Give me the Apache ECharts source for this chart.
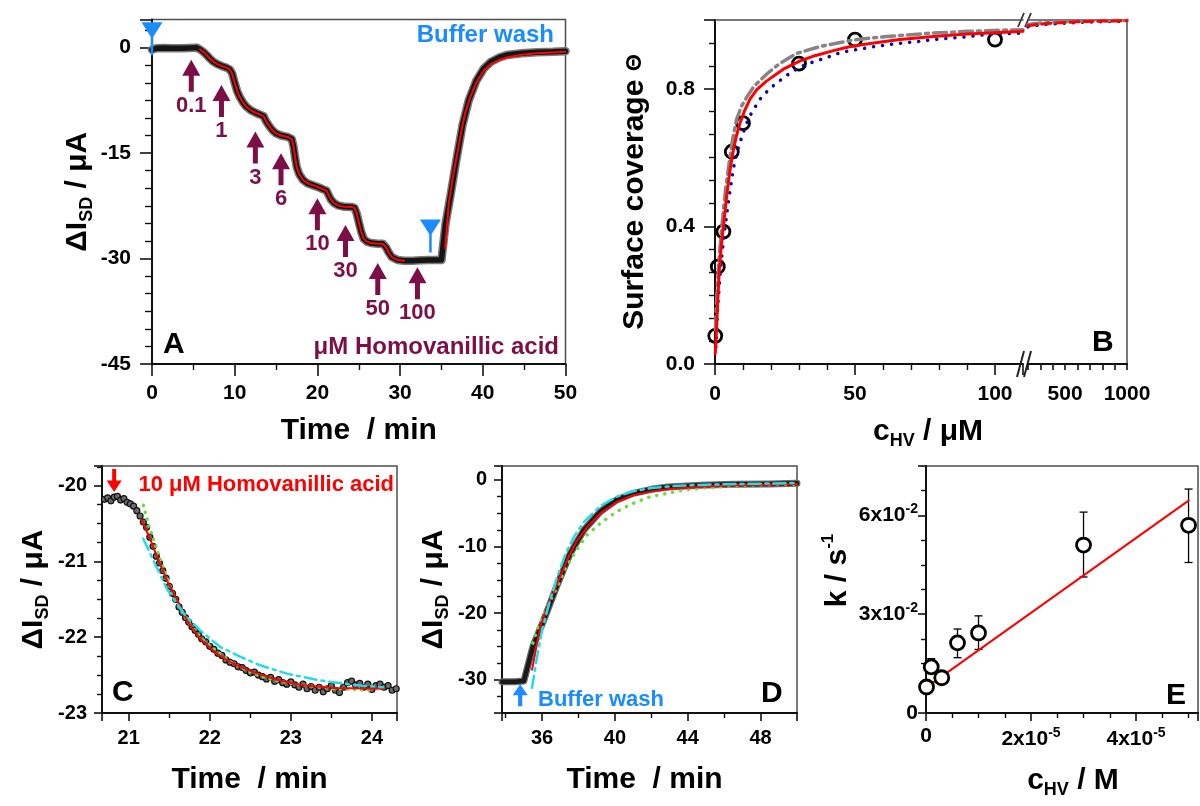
<!DOCTYPE html>
<html>
<head>
<meta charset="utf-8">
<title>Homovanillic acid binding</title>
<script src="https://cdn.jsdelivr.net/npm/echarts@6.0.0/dist/echarts.min.js"></script>
<style>
  html, body { margin: 0; padding: 0; background: #fff; }
  #main { width: 1200px; height: 806px; }
</style>
</head>
<body>
<div id="main"></div>
<script>
// ---- panel A: full titration, time (min) vs current (uA)
const traceA = [
  [0, -0.3], [0.5, -0.1], [1.5, -0.05], [2.5, -0.1], [3.5, -0.1], [4.5, -0.05], [5.4, 0], [5.8, -0.25],
  [6.2, -0.6], [6.6, -1.05], [7.0, -1.55], [7.4, -2.0], [7.9, -2.35], [8.4, -2.6], [9.0, -2.85], [9.4, -3.1],
  [9.7, -3.7], [10.0, -5.0], [10.3, -6.2], [10.6, -7.0], [11.0, -7.8], [11.4, -8.4], [12.0, -8.95], [12.6, -9.3],
  [13.2, -9.6], [13.5, -9.75], [13.8, -10.5], [14.2, -11.2], [14.6, -11.8], [15.0, -12.2], [15.6, -12.5], [16.4, -12.7],
  [16.9, -13.0], [17.1, -14.0], [17.3, -15.6], [17.5, -17.0], [17.8, -18.0], [18.25, -18.8], [18.8, -19.3], [19.5, -19.6],
  [20.2, -19.9], [20.7, -20.15], [21.1, -20.35], [21.35, -20.95], [21.6, -21.55], [22.0, -22.1], [22.5, -22.45], [23.3, -22.65],
  [24.2, -22.68], [24.5, -22.8], [24.75, -23.6], [25.0, -24.8], [25.3, -26.2], [25.6, -27.2], [26.0, -27.6], [26.5, -27.8],
  [27.3, -27.9], [27.9, -27.9], [28.3, -28.4], [28.6, -29.1], [29.0, -29.8], [29.7, -30.2], [30.5, -30.3], [31.5, -30.3],
  [32.5, -30.25], [33.3, -30.2], [34.2, -30.2], [35.0, -30.2], [35.5, -25], [36.1, -21], [36.8, -16], [37.55, -11],
  [38.3, -7.5], [39.2, -4.75], [40.1, -3.0], [41.0, -2.0], [42.0, -1.4], [42.9, -1.05], [44.7, -0.8], [46.5, -0.65],
  [48.5, -0.6], [50, -0.5]
];
const arrowTimesA = [4.75, 8.4, 12.5, 15.6, 20.0, 23.4, 27.3, 32.1];
const arrowLevelsA = [-4.0, -7.6, -14.2, -17.3, -23.7, -27.5, -32.9, -33.5];
const arrowConcA = ['0.1', '1', '3', '6', '10', '30', '50', '100'];
const washTimesA = [0, 33.67];
const washLevelsA = [1.25, -26.8];

// ---- panel B: surface coverage vs concentration (uM)
const concB = [0.1, 1, 3, 6, 10, 30, 50, 100];
const thetaB = [0.082, 0.283, 0.385, 0.617, 0.70, 0.873, 0.943, 0.943];
const redB = [[0.1, 0.03], [0.4, 0.075], [0.8, 0.15], [1.5, 0.27], [2.2, 0.34], [3, 0.40], [4.2, 0.49], [5.3, 0.56],
  [6.5, 0.62], [7.7, 0.665], [8.9, 0.70], [10.5, 0.735], [12.5, 0.77], [15, 0.798], [18.5, 0.823], [24.4, 0.857],
  [30.4, 0.881], [36, 0.897], [42.3, 0.911], [48, 0.922], [54.2, 0.93], [60, 0.937], [66, 0.943], [78, 0.952],
  [90, 0.959], [100, 0.963], [110, 0.967]];
const grayB = [[0.15, 0.10], [0.5, 0.17], [0.8, 0.22], [1.3, 0.29], [1.8, 0.34], [2.8, 0.43], [3.8, 0.51], [4.75, 0.566],
  [6.0, 0.64], [7.7, 0.711], [9.5, 0.75], [11.3, 0.775], [14, 0.808], [18.5, 0.843], [23, 0.873], [29.2, 0.903],
  [37.5, 0.923], [49.4, 0.942], [61.3, 0.952], [75.6, 0.961], [89.9, 0.967], [105.4, 0.971], [110, 0.972]];
const blueB = [[0.3, 0.05], [1, 0.17], [2, 0.28], [3, 0.36], [4.75, 0.47], [6.5, 0.566], [8, 0.62], [9.5, 0.658],
  [11, 0.695], [13.1, 0.731], [16.1, 0.77], [19.6, 0.801], [23.8, 0.828], [27.4, 0.849], [31, 0.866], [35.1, 0.878],
  [39.9, 0.891], [44, 0.903], [48.2, 0.911], [53, 0.917], [57.1, 0.923], [61.9, 0.928], [66.7, 0.933], [72, 0.937],
  [76.7, 0.942], [80.9, 0.945], [85, 0.948], [89.9, 0.951], [95.8, 0.957], [100.6, 0.959], [110, 0.962]];
const redB2 = [[200, 0.983], [300, 0.988], [400, 0.991], [500, 0.993], [600, 0.995], [700, 0.996], [800, 0.997], [1000, 0.998]];
const grayB2 = [[200, 0.987], [300, 0.991], [400, 0.994], [500, 0.995], [600, 0.996], [800, 0.998], [1000, 0.999]];
const blueB2 = [[200, 0.980], [300, 0.986], [400, 0.989], [500, 0.991], [600, 0.993], [800, 0.995], [1000, 0.996]];

// ---- panel C: 10 uM step, zoomed
const dotsC = [
  [20.70, -20.18], [20.74, -20.16], [20.78, -20.20], [20.82, -20.15], [20.86, -20.14], [20.90, -20.19], [20.94, -20.17],
  [20.98, -20.22], [21.02, -20.24], [21.06, -20.27], [21.10, -20.33], [21.14, -20.40], [21.18, -20.48], [21.22, -20.55],
  [21.26, -20.68], [21.30, -20.80], [21.34, -20.93], [21.38, -21.02], [21.42, -21.12], [21.46, -21.22], [21.50, -21.33],
  [21.54, -21.42], [21.58, -21.50], [21.62, -21.60], [21.66, -21.67], [21.70, -21.74], [21.74, -21.80], [21.78, -21.86],
  [21.82, -21.91], [21.86, -21.96], [21.90, -22.02], [21.95, -22.06], [22.00, -22.12], [22.05, -22.16], [22.10, -22.21],
  [22.15, -22.24], [22.20, -22.30], [22.25, -22.33], [22.30, -22.35], [22.35, -22.39], [22.40, -22.40], [22.45, -22.44],
  [22.50, -22.47], [22.55, -22.46], [22.60, -22.50], [22.65, -22.52], [22.70, -22.55], [22.75, -22.53], [22.80, -22.58],
  [22.85, -22.56], [22.90, -22.60], [22.95, -22.62], [23.00, -22.59], [23.05, -22.63], [23.10, -22.66], [23.15, -22.62],
  [23.20, -22.68], [23.25, -22.65], [23.30, -22.70], [23.35, -22.66], [23.40, -22.72], [23.45, -22.68], [23.50, -22.64],
  [23.55, -22.70], [23.60, -22.73], [23.65, -22.66], [23.70, -22.60], [23.75, -22.58], [23.80, -22.63], [23.85, -22.61],
  [23.90, -22.66], [23.95, -22.62], [24.00, -22.69], [24.05, -22.64], [24.10, -22.62], [24.15, -22.66], [24.20, -22.64],
  [24.25, -22.70], [24.30, -22.68]
];
const redC = [[21.16, -20.45], [21.27, -20.72], [21.35, -20.94], [21.47, -21.25], [21.6, -21.51], [21.72, -21.78],
  [21.88, -22.02], [22.09, -22.22], [22.29, -22.35], [22.54, -22.46], [22.79, -22.55], [23.12, -22.63], [23.53, -22.67], [24.14, -22.68]];
const greenC = [[21.18, -20.26], [21.25, -20.54], [21.31, -20.72], [21.39, -20.98], [21.5, -21.3], [21.62, -21.6], [21.75, -21.82],
  [21.88, -22.0], [22.09, -22.19], [22.29, -22.35], [22.54, -22.48], [22.79, -22.57], [23.12, -22.63], [23.53, -22.68], [24.02, -22.7]];
const cyanC = [[21.18, -20.7], [21.31, -21.0], [21.47, -21.36], [21.68, -21.69], [21.88, -21.91], [22.13, -22.13],
  [22.38, -22.26], [22.62, -22.37], [22.95, -22.48], [23.36, -22.57], [23.77, -22.63], [24.14, -22.66]];
const markC = [20.82, -19.93];

// ---- panel D: buffer wash, zoomed
const traceD = [[33.8, -30.3], [34.5, -30.3], [35.0, -30.2], [35.5, -25], [36.1, -21], [36.8, -16], [37.55, -11],
  [38.3, -7.5], [39.2, -4.75], [40.1, -3.0], [41.0, -2.0], [42.0, -1.4], [42.9, -1.05], [44.7, -0.8], [46.5, -0.65],
  [48.5, -0.6], [50, -0.5]];
const redD = [[35.45, -28.5], [35.9, -22], [36.4, -18.3], [37.0, -14.5], [37.5, -11.3], [37.9, -9.2], [38.5, -7.0],
  [39.2, -5.0], [40.1, -3.3], [41.0, -2.3], [42.0, -1.75], [42.9, -1.4], [44.7, -1.0], [46.5, -0.8], [48.5, -0.7], [50, -0.6]];
const cyanD = [[35.45, -31.2], [35.7, -27], [36.0, -22.5], [36.4, -18.5], [36.8, -14.8], [37.3, -11], [37.8, -8.3],
  [38.3, -6.3], [39.2, -3.9], [40.1, -2.5], [41.0, -1.7], [42.0, -1.2], [43.5, -0.85], [45, -0.7], [47, -0.6], [50, -0.45]];
const greenD = [[35.5, -24.5], [35.7, -22.7], [36.2, -19.6], [36.8, -16.2], [37.3, -13.2], [37.9, -10.5], [38.45, -8.3],
  [39.2, -6.5], [40.1, -4.75], [41.0, -3.5], [41.95, -2.5], [42.9, -2.0], [43.8, -1.5], [44.7, -1.25], [46.5, -0.85],
  [48.5, -0.7], [50, -0.65]];
const markD = [34.8, -32.35];

// ---- panel E: rate constant vs concentration (M)
const concE = [1e-7, 1e-6, 3e-6, 6e-6, 1e-5, 3e-5, 5e-5];
const kE = [0.0079, 0.0140, 0.0107, 0.0213, 0.0243, 0.0510, 0.0570];
const errLowE = [0.0072, 0.0120, 0.0100, 0.0168, 0.0193, 0.0413, 0.0457];
const errHighE = [0.0086, 0.0165, 0.0114, 0.0255, 0.0295, 0.0610, 0.0680];
const fitE = [[0, 0.0077], [5e-5, 0.0645]];

const FONT = "'Liberation Sans', Arial, sans-serif";
const PURPLE = '#7d0f47';
const BLUE = '#1a8cff';
const ARROW_UP = 'path://M9,0 L18,16 L11.5,16 L11.5,32 L6.5,32 L6.5,16 L0,16 Z';
const ARROW_DOWN = 'path://M5.5,0 L9.5,0 L9.5,12 L15,12 L7.5,24 L0,12 L5.5,12 Z';
const WASH = 'path://M0,0 L20,0 L10,17 Z M8.8,15 L11.2,15 L11.2,34 L8.8,34 Z';

const nameRich = {
  n: { fontSize: 30, fontWeight: 'bold', fontFamily: FONT, color: '#000', lineHeight: 36 },
  s: { fontSize: 18, fontWeight: 'bold', fontFamily: FONT, color: '#000', verticalAlign: 'bottom', lineHeight: 15 },
  p: { fontSize: 17, fontWeight: 'bold', fontFamily: FONT, color: '#000', verticalAlign: 'top', lineHeight: 15 },
  t: { fontSize: 22, fontWeight: 'bold', fontFamily: FONT, color: '#000', lineHeight: 36 }
};
const labelRich = {
  a: { fontSize: 21, fontWeight: 'bold', fontFamily: FONT, color: '#000', lineHeight: 26 },
  e: { fontSize: 14, fontWeight: 'bold', fontFamily: FONT, color: '#000', verticalAlign: 'top', lineHeight: 14 }
};

function mkAxis(o) {
  const ax = {
    type: 'value',
    gridIndex: o.grid,
    min: o.min, max: o.max,
    axisLine: { show: true, onZero: false, lineStyle: { color: o.lineColor || '#111', width: o.lineWidth || 2 } },
    axisTick: { show: o.ticks !== false, length: o.tickLen || 8, lineStyle: { color: '#111', width: 1.6 } },
    minorTick: { show: !!o.minor, splitNumber: o.minor || 5, length: o.minorLen || 5, lineStyle: { color: '#111', width: 1.4 } },
    splitLine: { show: false },
    minorSplitLine: { show: false },
    axisLabel: {
      show: !!o.fmt, formatter: o.fmt, margin: o.margin || 14, color: '#000',
      fontSize: o.labelSize || 20, fontWeight: 'bold', fontFamily: FONT, rich: labelRich
    },
    name: o.name || '',
    nameLocation: 'middle',
    nameGap: o.gap || 40,
    nameMoveOverlap: false,
    nameTextStyle: { fontSize: 30, fontWeight: 'bold', fontFamily: FONT, color: '#000', rich: nameRich, padding: o.namePad || 0 }
  };
  if (o.position) ax.position = o.position;
  if (o.rotate != null) ax.nameRotate = o.rotate;
  if (o.interval != null) ax.interval = o.interval;
  if (o.step != null) { ax.minInterval = o.step; ax.maxInterval = o.step; ax.splitNumber = 4; }
  return ax;
}

function line(x, y, data, color, width, type, extra) {
  return Object.assign({
    type: 'line', xAxisIndex: x, yAxisIndex: y, data: data,
    showSymbol: false, symbol: 'none', animation: false,
    lineStyle: { color: color, width: width, type: type || 'solid', cap: 'round', join: 'round' }
  }, extra || {});
}

const frame = { show: true, borderColor: '#4d4d4d', borderWidth: 1.5, outerBoundsMode: 'none', containLabel: false };

const isInt = v => Math.abs(v - Math.round(v)) < 1e-9;
const fitA = traceA.filter(p => p[0] >= 5.8 && p[0] <= 30.6);

const chart = echarts.init(document.getElementById('main'));
chart.setOption({
  animation: false,
  backgroundColor: '#fff',
  textStyle: { fontFamily: FONT },
  grid: [
    Object.assign({ left: 152, top: 19.5, width: 413.5, height: 344.5 }, frame),
    { left: 715, top: 20, width: 308, height: 344, show: false, outerBoundsMode: 'none', containLabel: false },
    { left: 1028, top: 20, width: 99, height: 344, show: false, outerBoundsMode: 'none', containLabel: false },
    Object.assign({ left: 102, top: 466, width: 295, height: 247 }, frame),
    Object.assign({ left: 502, top: 466, width: 295, height: 247 }, frame),
    Object.assign({ left: 926, top: 466, width: 272, height: 247 }, frame)
  ],
  xAxis: [
    mkAxis({ grid: 0, min: 0, max: 50, interval: 10, minor: 2, tickLen: 12, minorLen: 6, margin: 19, labelSize: 21,
      fmt: v => v, name: 'Time  / min', gap: 52 }),
    mkAxis({ grid: 1, min: 0, max: 110, interval: 50, minor: 5, tickLen: 11, minorLen: 6, margin: 20, labelSize: 21,
      fmt: v => (v % 50 === 0 ? v : ''), name: '{n|c}{s|HV}{n| / μM}', gap: 50, namePad: [0, 0, 0, 118] }),
    mkAxis({ grid: 2, min: 200, max: 1000, interval: 100, tickLen: 6, margin: 20, labelSize: 21,
      fmt: v => (v === 500 || v === 1000 ? v : '') }),
    mkAxis({ grid: 3, min: 20.67, max: 24.31, step: 1, minor: 2, tickLen: 8, minorLen: 5, margin: 15, labelSize: 20,
      fmt: v => (isInt(v) ? v : ''), name: 'Time  / min', gap: 52 }),
    mkAxis({ grid: 4, min: 33.8, max: 50, step: 4, minor: 2, tickLen: 8, minorLen: 5, margin: 15, labelSize: 20,
      fmt: v => (isInt(v) && v % 4 === 0 ? v : ''), name: 'Time  / min', gap: 52, namePad: [0, 10, 0, 0] }),
    mkAxis({ grid: 5, min: 0, max: 5.18e-5, interval: 2e-5, minor: 4, tickLen: 8, minorLen: 5, margin: 13, labelSize: 21,
      fmt: v => {
        if (v === 0) return '0';
        const k = v / 1e-5;
        return isInt(k) && Math.round(k) % 2 === 0 ? '{a|' + Math.round(k) + 'x10}{e|-5}' : '';
      },
      name: '{n|c}{s|HV}{n| / M}', gap: 50, namePad: [0, 0, 0, 22] }),
    mkAxis({ grid: 1, position: 'top', min: 0, max: 110, ticks: false, lineColor: '#4d4d4d', lineWidth: 1.5 }),
    mkAxis({ grid: 2, position: 'top', min: 200, max: 1000, ticks: false, lineColor: '#4d4d4d', lineWidth: 1.5 })
  ],
  yAxis: [
    mkAxis({ grid: 0, min: -45, max: 4, interval: 15, minor: 6, tickLen: 12, minorLen: 7, margin: 21, labelSize: 21,
      fmt: v => (v % 15 === 0 ? String(v) : ''), name: '{n|ΔI}{s|SD}{n| / μA}', rotate: 90, gap: 56 }),
    mkAxis({ grid: 1, min: 0, max: 1.0, interval: 0.4, minor: 6, tickLen: 11, minorLen: 6, margin: 20, labelSize: 21,
      fmt: v => (v < 0.99 ? v.toFixed(1) : ''), name: '{n|Surface coverage }{t|Θ}', rotate: 90, gap: 62 }),
    mkAxis({ grid: 2, position: 'right', min: 0, max: 1.0, ticks: false, lineColor: '#4d4d4d', lineWidth: 1.5 }),
    mkAxis({ grid: 3, min: -23, max: -19.74, interval: 1, minor: 4, tickLen: 8, minorLen: 5, margin: 15, labelSize: 20,
      fmt: v => (isInt(v) ? v : ''), name: '{n|ΔI}{s|SD}{n| / μA}', rotate: 90, gap: 50 }),
    mkAxis({ grid: 4, min: -35, max: 2.1, step: 10, minor: 4, tickLen: 8, minorLen: 5, margin: 15, labelSize: 20,
      fmt: v => (isInt(v) && v % 10 === 0 ? v : ''), name: '{n|ΔI}{s|SD}{n| / μA}', rotate: 90, gap: 50 }),
    mkAxis({ grid: 5, min: 0, max: 0.075, interval: 0.03, minor: 4, tickLen: 8, minorLen: 5, margin: 8, labelSize: 21,
      fmt: v => {
        if (v === 0) return '0';
        const k = v / 0.01;
        return isInt(k) ? '{a|' + Math.round(k) + 'x10}{e|-2}' : '';
      },
      name: '{n|k / s}{p|-1}', rotate: 90, gap: 70, namePad: [0, 0, 0, 38] })
  ],
  series: [
    // A
    line(0, 0, traceA, '#7a7a7a', 8.5),
    line(0, 0, traceA, '#151515', 5.5),
    line(0, 0, fitA, '#ff0000', 2),
    line(0, 0, redD, '#ff0000', 2),
    {
      type: 'scatter', xAxisIndex: 0, yAxisIndex: 0, clip: false, z: 5,
      data: arrowTimesA.map((t, i) => ({ value: [t, arrowLevelsA[i]], name: arrowConcA[i] })),
      symbol: ARROW_UP, symbolSize: [18, 32], itemStyle: { color: PURPLE, opacity: 1 },
      label: { show: true, position: 'bottom', distance: 3, formatter: '{b}', color: PURPLE,
        fontSize: 22, fontWeight: 'bold', fontFamily: FONT }
    },
    {
      type: 'scatter', xAxisIndex: 0, yAxisIndex: 0, clip: false, z: 5,
      data: washTimesA.map((t, i) => [t, washLevelsA[i]]),
      symbol: WASH, symbolSize: [21, 33], itemStyle: { color: BLUE, opacity: 1 }
    },
    // B
    {
      type: 'scatter', xAxisIndex: 1, yAxisIndex: 1, clip: false,
      data: concB.map((c, i) => [c, thetaB[i]]),
      symbol: 'circle', symbolSize: 13,
      itemStyle: { color: 'rgba(255,255,255,0)', borderColor: '#000', borderWidth: 2.8, opacity: 1 }
    },
    line(1, 1, blueB, '#0a0aa0', 3.5, [0.1, 9]),
    line(1, 1, grayB, '#858585', 3.5, [13, 5, 3, 5]),
    line(1, 1, redB, '#ff0000', 3),
    line(2, 2, blueB2, '#0a0aa0', 3.5, [0.1, 9]),
    line(2, 2, grayB2, '#858585', 3.5, [13, 5, 3, 5]),
    line(2, 2, redB2, '#ff0000', 3, [9, 5]),
    // C
    {
      type: 'scatter', xAxisIndex: 3, yAxisIndex: 3,
      data: dotsC, symbol: 'circle', symbolSize: 6,
      itemStyle: { color: '#6a6a6a', borderColor: '#111', borderWidth: 1.2, opacity: 1 }
    },
    line(3, 3, greenC, '#66dd44', 3.5, [0.1, 7]),
    line(3, 3, redC, '#ff0000', 2),
    line(3, 3, cyanC, '#22dde6', 2.5, [12, 5, 3, 5]),
    {
      type: 'scatter', xAxisIndex: 3, yAxisIndex: 3, clip: false, z: 5,
      data: [markC], symbol: ARROW_DOWN, symbolSize: [15, 23], itemStyle: { color: '#ff0000', opacity: 1 }
    },
    // D
    line(4, 4, traceD, '#6a6a6a', 7),
    line(4, 4, traceD, '#1a1a1a', 4.5),
    line(4, 4, greenD, '#66dd44', 3.5, [0.1, 8]),
    line(4, 4, redD, '#ff0000', 2),
    line(4, 4, cyanD, '#22dde6', 2.5, [12, 5, 3, 5]),
    {
      type: 'scatter', xAxisIndex: 4, yAxisIndex: 4, clip: false, z: 5,
      data: [markD], symbol: ARROW_UP, symbolSize: [15, 22], itemStyle: { color: BLUE, opacity: 1 }
    },
    // E
    line(5, 5, fitE, '#ff0000', 2),
    {
      type: 'custom', xAxisIndex: 5, yAxisIndex: 5,
      data: concE.map((c, i) => [c, errLowE[i], errHighE[i]]),
      renderItem: (params, api) => {
        const lo = api.coord([api.value(0), api.value(1)]);
        const hi = api.coord([api.value(0), api.value(2)]);
        const w = 4;
        const st = { stroke: '#000', lineWidth: 1.3 };
        return {
          type: 'group', children: [
            { type: 'line', shape: { x1: lo[0], y1: lo[1], x2: hi[0], y2: hi[1] }, style: st },
            { type: 'line', shape: { x1: lo[0] - w, y1: lo[1], x2: lo[0] + w, y2: lo[1] }, style: st },
            { type: 'line', shape: { x1: hi[0] - w, y1: hi[1], x2: hi[0] + w, y2: hi[1] }, style: st }
          ]
        };
      }
    },
    {
      type: 'scatter', xAxisIndex: 5, yAxisIndex: 5, z: 4,
      data: concE.map((c, i) => [c, kE[i]]),
      symbol: 'circle', symbolSize: 14,
      itemStyle: { color: '#fff', borderColor: '#000', borderWidth: 2.8, opacity: 1 }
    }
  ],
  graphic: [
    { type: 'text', x: 163, y: 345, style: { text: 'A', fontSize: 30, fontWeight: 'bold', fontFamily: FONT, fill: '#000', verticalAlign: 'middle' } },
    { type: 'text', x: 1092, y: 343, style: { text: 'B', fontSize: 30, fontWeight: 'bold', fontFamily: FONT, fill: '#000', verticalAlign: 'middle' } },
    { type: 'text', x: 112, y: 693, style: { text: 'C', fontSize: 30, fontWeight: 'bold', fontFamily: FONT, fill: '#000', verticalAlign: 'middle' } },
    { type: 'text', x: 761, y: 694, style: { text: 'D', fontSize: 30, fontWeight: 'bold', fontFamily: FONT, fill: '#000', verticalAlign: 'middle' } },
    { type: 'text', x: 1166, y: 696, style: { text: 'E', fontSize: 30, fontWeight: 'bold', fontFamily: FONT, fill: '#000', verticalAlign: 'middle' } },
    { type: 'text', x: 554, y: 35, style: { text: 'Buffer wash', fontSize: 24, fontWeight: 'bold', fontFamily: FONT, fill: BLUE, align: 'right', verticalAlign: 'middle' } },
    { type: 'text', x: 559, y: 347, style: { text: 'μM Homovanillic acid', fontSize: 24, fontWeight: 'bold', fontFamily: FONT, fill: PURPLE, align: 'right', verticalAlign: 'middle' } },
    { type: 'text', x: 394, y: 485, style: { text: '10 μM Homovanillic acid', fontSize: 22, fontWeight: 'bold', fontFamily: FONT, fill: '#ff0000', align: 'right', verticalAlign: 'middle' } },
    { type: 'text', x: 538, y: 700, style: { text: 'Buffer wash', fontSize: 22, fontWeight: 'bold', fontFamily: FONT, fill: BLUE, verticalAlign: 'middle' } },
    // axis break marks on panel B
    { type: 'line', shape: { x1: 1017, y1: 377, x2: 1024, y2: 351 }, style: { stroke: '#222', lineWidth: 2 } },
    { type: 'line', shape: { x1: 1024, y1: 377, x2: 1031, y2: 351 }, style: { stroke: '#222', lineWidth: 2 } },
    { type: 'line', shape: { x1: 1018, y1: 27, x2: 1024, y2: 13 }, style: { stroke: '#333', lineWidth: 1.8 } },
    { type: 'line', shape: { x1: 1025, y1: 27, x2: 1031, y2: 13 }, style: { stroke: '#333', lineWidth: 1.8 } }
  ]
});
</script>
</body>
</html>
